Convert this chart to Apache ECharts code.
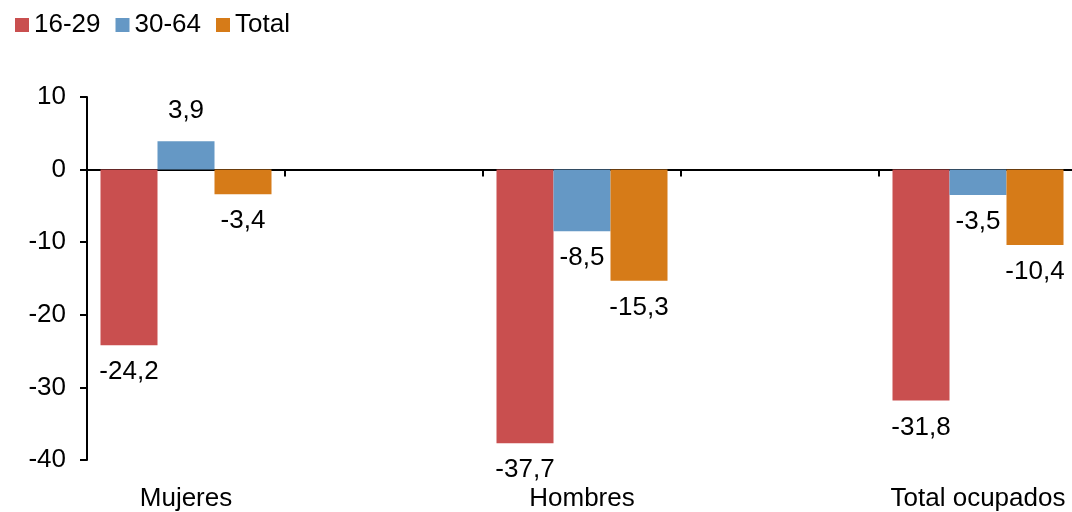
<!DOCTYPE html>
<html>
<head>
<meta charset="utf-8">
<script src="https://cdn.jsdelivr.net/npm/echarts@6/dist/echarts.min.js"></script>
<style>html,body{margin:0;padding:0;background:#fff}#c{width:1072px;height:512px}</style>
</head>
<body>
<div id="c"></div>
<script>
const categories = ['Mujeres', '', 'Hombres', '', 'Total ocupados'];
const seriesNames = ['16-29', '30-64', 'Total'];
const s1629 = [-24.2, null, -37.7, null, -31.8];
const s3064 = [3.9, null, -8.5, null, -3.5];
const sTotal = [-3.4, null, -15.3, null, -10.4];
const yTicks = [-40, -30, -20, -10, 0, 10];
const colors = ['#C94F4F', '#6598C5', '#D67B18'];

const font = 'Liberation Sans, Arial, sans-serif';
const FS = 26;
const chart = echarts.init(document.getElementById('c'), null, {renderer: 'canvas'});
function mk(name, data, color) {
  return {
    name: name, type: 'bar', xAxisIndex: 0,
    barWidth: 57, barGap: '0%',
    itemStyle: {color: color},
    label: {
      show: true, fontFamily: font, fontSize: FS, color: '#000',
      formatter: p => String(p.value).replace('.', ',')
    },
    data: data.map(v => v == null ? null : {
      value: v,
      label: {position: v < 0 ? 'bottom' : 'top', distance: v < 0 ? 14 : 17}
    })
  };
}
chart.setOption({
  animation: false,
  color: colors,
  legend: {
    left: 10, top: 7, itemWidth: 14, itemHeight: 14, itemGap: 15,
    icon: 'rect',
    textStyle: {fontFamily: font, fontSize: FS, color: '#000', padding: [0, 0, 0, 0]},
    data: seriesNames
  },
  grid: {left: 87, width: 990, top: 97, bottom: 52, outerBoundsMode: 'none', containLabel: false},
  xAxis: [{
    type: 'category', data: categories, position: 'bottom',
    axisLine: {onZero: true, lineStyle: {color: '#000', width: 2}},
    axisTick: {show: true, length: 7, lineStyle: {color: '#000', width: 2}},
    axisLabel: {show: false}
  }, {
    type: 'category', data: categories, position: 'bottom',
    axisLine: {show: false, onZero: false}, axisTick: {show: false},
    axisLabel: {fontFamily: font, fontSize: FS, color: '#000', margin: 26, interval: 0}
  }],
  yAxis: {
    type: 'value', min: yTicks[0], max: yTicks[yTicks.length - 1], interval: 10,
    axisLine: {show: true, lineStyle: {color: '#000', width: 2}},
    axisTick: {show: true, length: 7, lineStyle: {color: '#000', width: 2}},
    splitLine: {show: false},
    axisLabel: {fontFamily: font, fontSize: FS, color: '#000', margin: 21}
  },
  series: [mk(seriesNames[0], s1629, colors[0]), mk(seriesNames[1], s3064, colors[1]), mk(seriesNames[2], sTotal, colors[2])]
});
</script>
</body>
</html>
